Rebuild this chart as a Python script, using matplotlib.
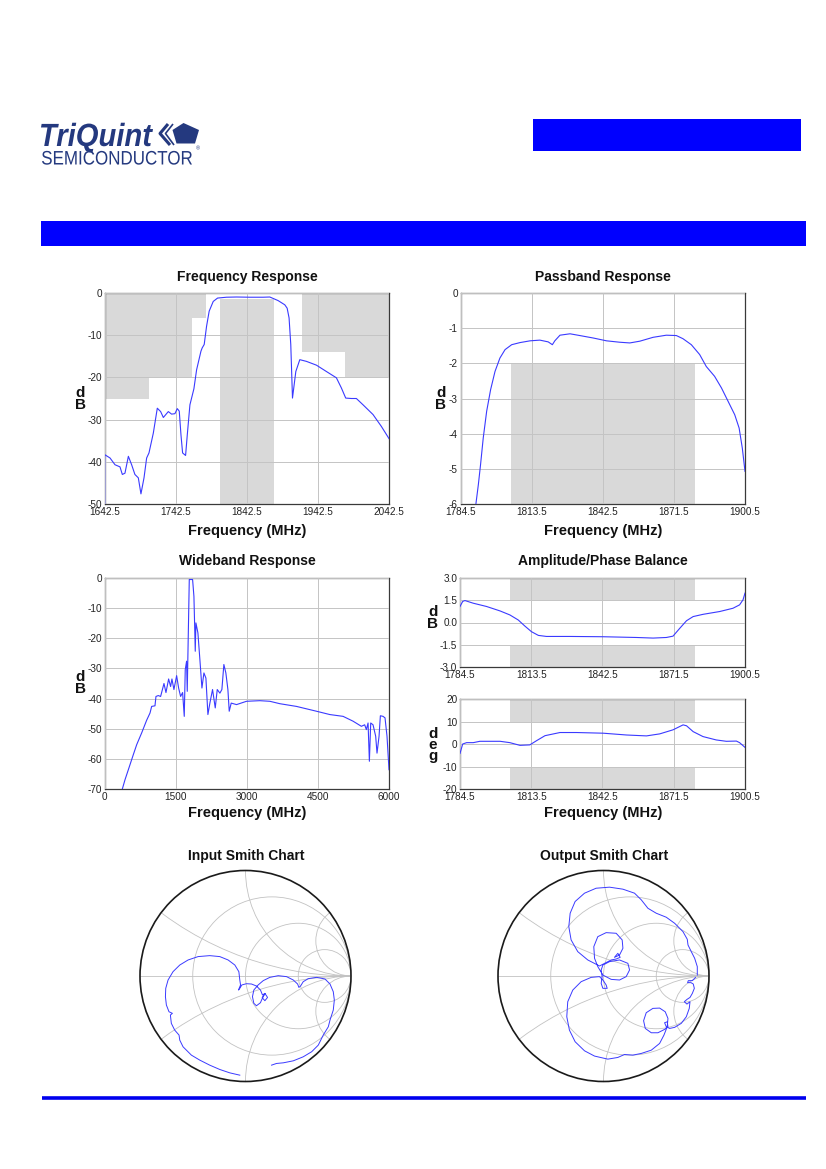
import matplotlib
matplotlib.use('Agg')
import matplotlib.pyplot as plt
from matplotlib.patches import Circle, Rectangle, Polygon, PathPatch
from matplotlib.textpath import TextPath
from matplotlib.font_manager import FontProperties
from matplotlib.transforms import Affine2D
import numpy as np

plt.rcParams['font.family'] = ['Liberation Sans', 'DejaVu Sans']

# ---------------- data ----------------
# Frequency Response (MHz, dB)
fr_freq = [1642.5, 1642.5, 1650, 1657, 1664, 1667.3, 1671, 1675.8, 1680.4, 1685, 1689.8, 1693.5,
           1697.8, 1701.5, 1704.8, 1710.9, 1716.5, 1721.2, 1725, 1732, 1736.6, 1741.3, 1744.6,
           1747.4, 1749.8, 1752.1, 1756.3, 1758.7, 1762.4, 1768, 1771.8, 1777.9, 1779.7, 1782.5,
           1785.8, 1789.5, 1795.2, 1801.3, 1813.9, 1828, 1846.7, 1865.4, 1874.8, 1886.5, 1895.9,
           1899.2, 1901.9, 1904.3, 1906.7, 1908.5, 1911.4, 1917, 1926.3, 1940.4, 1954.4, 1968.5,
           1975.5, 1981.6, 1989.6, 1996.6, 2006, 2020, 2031.7, 2042.5]
fr_db = [-50, -38.3, -39.1, -40.7, -41.2, -43, -42.7, -38.7, -40.7, -43, -43.8, -47.6,
         -43.8, -39.1, -37.9, -33.2, -27.3, -28.1, -29.5, -28.1, -28.7, -28.6, -27.4,
         -28.0, -33.6, -37.9, -38.5, -33.6, -26.5, -22.7, -18.2, -13.8, -13.0, -12.2,
         -7.9, -4.3, -2.0, -1.2, -1.0, -0.95, -1.0, -1.0, -0.95, -1.8, -2.8,
         -3.6, -5.9, -12.2, -24.9, -22.5, -18.6, -15.8, -16.2, -17.1, -18.6, -20.1,
         -22.5, -24.9, -25.0, -25.0, -26.5, -28.8, -31.6, -34.5]
# spec masks: (f_start, f_end, top, bottom)
fr_masks = [(1642.5, 1705, 0, -25), (1705, 1765, 0, -20), (1765, 1785, 0, -6),
            (1805, 1880, -1.5, -50), (1920, 1980, 0, -14), (1980, 2042.5, 0, -20)]

# Passband Response
pb_freq = [1790.7, 1791.7, 1792.6, 1793.7, 1795.1, 1796.7, 1798.5, 1800.5, 1802.6, 1805.3, 1808.7,
           1812.8, 1816.8, 1820.2, 1821.9, 1822.9, 1825, 1829.1, 1833.1, 1838.6, 1844, 1849.4,
           1853.5, 1857.6, 1863, 1868.4, 1872.5, 1875.2, 1878.6, 1882, 1884.7, 1888.1, 1890.9,
           1893.6, 1896.3, 1898.1, 1899.4, 1900.5]
pb_db = [-6, -5.45, -4.88, -4.12, -3.36, -2.75, -2.23, -1.85, -1.61, -1.47, -1.41,
         -1.36, -1.34, -1.39, -1.47, -1.36, -1.20, -1.16, -1.21, -1.28, -1.36, -1.40,
         -1.42, -1.37, -1.26, -1.20, -1.21, -1.30, -1.47, -1.75, -2.09, -2.37, -2.70,
         -3.08, -3.46, -3.84, -4.41, -5.07]
pb_masks = [(1805, 1880, -2, -6)]

# Wideband Response
wb_freq = [372, 429, 499, 604, 675, 780, 885, 956, 991, 1061, 1082, 1131, 1180, 1251, 1293, 1349,
           1391, 1419, 1461, 1518, 1560, 1602, 1644, 1679, 1700, 1728, 1742, 1771, 1785, 1813,
           1855, 1883, 1897, 1911, 1925, 1967, 2009, 2052, 2094, 2136, 2178, 2220, 2276, 2333,
           2375, 2431, 2473, 2515, 2557, 2600, 2628, 2670, 2782, 2993, 3274, 3485, 3696, 4047,
           4469, 4750, 5031, 5241, 5417, 5487, 5522, 5558, 5586, 5614, 5663, 5719, 5747, 5790,
           5818, 5874, 5916, 5958, 6000]
wb_db = [-70, -66.9, -63.6, -58.6, -55.3, -51.4, -47.2, -44.8, -42.6, -42.4, -39.3, -39.0, -39.3,
         -35.0, -38.0, -33.5, -36.0, -33.5, -37.0, -32.4, -36.5, -39.3, -38.0, -45.9, -30.4,
         -27.6, -37.6, -12.7, -0.5, -0.5, -0.5, -6.1, -14.9, -24.3, -14.9, -18.2, -27.1,
         -36.5, -31.5, -33.2, -45.3, -41.5, -37.0, -43.1, -37.0, -38.2, -37.0, -28.7, -31.5,
         -37.0, -44.2, -41.5, -42.0, -40.9, -40.7, -40.9, -41.7, -42.6, -44.2, -45.3, -45.9,
         -47.5, -49.2, -48.7, -50.3, -48.1, -60.8, -48.1, -48.7, -52.5, -58.1, -52.5, -45.7,
         -45.9, -46.4, -52.5, -63.6]

# Amplitude balance (dB)
ab_freq = [1784.5, 1785.6, 1786.5, 1789.9, 1795.3, 1800.8, 1804.8, 1808.2, 1810.9, 1813.6, 1816.4,
           1819.7, 1829.2, 1842.8, 1856.3, 1863.1, 1868.5, 1871.2, 1873.9, 1876.7, 1879.4,
           1883.4, 1890.2, 1895.6, 1898.3, 1899.7, 1900.5]
ab_db = [1.08, 1.42, 1.48, 1.30, 1.08, 0.78, 0.51, 0.17, -0.24, -0.62, -0.87,
         -0.94, -0.94, -0.96, -1.01, -1.05, -1.01, -0.92, -0.40, 0.12, 0.40,
         0.55, 0.74, 0.96, 1.19, 1.53, 1.98]
ab_masks = [(1805, 1880, 3.0, 1.5), (1805, 1880, -1.5, -3.0)]

# Phase balance (deg)
ph_freq = [1784.5, 1785.6, 1787.2, 1789.9, 1792.6, 1800.8, 1804.8, 1808.9, 1812.9, 1815.7, 1819.1,
           1825.2, 1831.9, 1842.8, 1852.3, 1860.4, 1865.8, 1871.2, 1875.3, 1876.7, 1879.4,
           1883.4, 1888.8, 1892.9, 1897.0, 1898.3, 1900.5]
ph_deg = [-4.2, 0.0, 0.6, 0.6, 1.2, 1.2, 0.6, -0.6, -0.4, 1.5, 3.7,
          5.1, 5.1, 4.8, 4.0, 3.6, 4.5, 6.3, 8.5, 8.1, 5.5,
          3.3, 1.8, 1.2, 1.3, 0.6, -1.5]
ph_masks = [(1805, 1880, 20, 10), (1805, 1880, -10, -20)]

# Smith charts: reflection coefficient (real, imag)
in_re = [-0.054, -0.149, -0.244, -0.339, -0.434, -0.513, -0.592, -0.623, -0.630, -0.671, -0.703,
         -0.712, -0.693, -0.725, -0.750, -0.759, -0.756, -0.734, -0.687, -0.623, -0.544, -0.449,
         -0.339, -0.244, -0.165, -0.101, -0.063, -0.054, -0.047, -0.060, -0.066, -0.054, -0.035,
         0.009, 0.057, 0.104, 0.142, 0.161, 0.184, 0.209, 0.184, 0.158, 0.184, 0.152, 0.142,
         0.104, 0.079, 0.066, 0.079, 0.120, 0.168, 0.231, 0.310, 0.389, 0.453, 0.494, 0.506,
         0.522, 0.547, 0.595, 0.674, 0.753, 0.801, 0.832, 0.842, 0.832, 0.801, 0.785, 0.737,
         0.690, 0.627, 0.547, 0.453, 0.358, 0.294, 0.247]
in_im = [-0.940, -0.918, -0.886, -0.845, -0.797, -0.750, -0.671, -0.608, -0.560, -0.513, -0.449,
         -0.370, -0.354, -0.339, -0.275, -0.196, -0.117, -0.038, 0.041, 0.104, 0.152, 0.184,
         0.193, 0.184, 0.152, 0.104, 0.041, -0.038, -0.085, -0.117, -0.133, -0.117, -0.085,
         -0.073, -0.076, -0.095, -0.133, -0.180, -0.165, -0.203, -0.234, -0.206, -0.165, -0.228,
         -0.253, -0.282, -0.259, -0.196, -0.133, -0.085, -0.044, -0.013, 0.003, -0.006, -0.038,
         -0.076, -0.108, -0.095, -0.054, -0.025, -0.013, -0.028, -0.076, -0.149, -0.228, -0.323,
         -0.418, -0.481, -0.560, -0.655, -0.718, -0.766, -0.804, -0.823, -0.829, -0.845]

out_re = [0.873, 0.842, 0.804, 0.797, 0.829, 0.851, 0.861, 0.842, 0.820, 0.791, 0.766, 0.791,
          0.820, 0.813, 0.785, 0.737, 0.674, 0.627, 0.595, 0.579, 0.604, 0.611, 0.579, 0.516,
          0.453, 0.396, 0.380, 0.405, 0.468, 0.532, 0.585, 0.611, 0.604, 0.573, 0.532, 0.453,
          0.358, 0.278, 0.199, 0.136, 0.041, -0.085, -0.180, -0.269, -0.323, -0.348, -0.339,
          -0.291, -0.212, -0.117, -0.038, -0.006, 0.025, 0.035, -0.006, -0.022, -0.013, -0.022,
          -0.006, 0.057, 0.152, 0.231, 0.247, 0.215, 0.152, 0.073, -0.006, -0.054, -0.085,
          -0.092, -0.054, 0.025, 0.120, 0.177, 0.184, 0.152, 0.104, 0.136, 0.158, 0.120, 0.073,
          -0.038, -0.149, -0.244, -0.307, -0.329, -0.316, -0.269, -0.180, -0.070, 0.057, 0.184,
          0.294, 0.358, 0.421, 0.500, 0.595, 0.674, 0.753, 0.794, 0.801, 0.832, 0.864, 0.889,
          0.889]
out_im = [-0.013, -0.044, -0.044, -0.063, -0.063, -0.076, -0.117, -0.165, -0.203, -0.222, -0.244,
          -0.266, -0.244, -0.307, -0.386, -0.449, -0.487, -0.497, -0.481, -0.443, -0.434, -0.481,
          -0.506, -0.538, -0.538, -0.497, -0.424, -0.348, -0.307, -0.304, -0.339, -0.402, -0.481,
          -0.560, -0.639, -0.703, -0.734, -0.750, -0.744, -0.772, -0.788, -0.759, -0.709, -0.623,
          -0.513, -0.386, -0.244, -0.133, -0.054, -0.013, -0.006, -0.038, -0.085, -0.117, -0.117,
          -0.070, -0.006, 0.057, 0.104, 0.136, 0.152, 0.120, 0.057, -0.006, -0.038, -0.032,
          0.009, 0.089, 0.168, 0.278, 0.373, 0.411, 0.405, 0.342, 0.263, 0.199, 0.177, 0.215,
          0.177, 0.161, 0.152, 0.095, 0.152, 0.231, 0.342, 0.468, 0.595, 0.706, 0.785, 0.832,
          0.842, 0.823, 0.785, 0.722, 0.642, 0.595, 0.557, 0.500, 0.421, 0.348, 0.294, 0.231,
          0.168, 0.089, 0.009]

# ---------------- figure ----------------
W, H = 826, 1169
fig = plt.figure(figsize=(W / 100, H / 100), dpi=100)
fig.patch.set_facecolor('white')

TRACE = '#3a3aff'
SHADE = '#d9d9d9'
GRID = '#c4c4c4'
NAVY = '#24397f'


def px_rect(l, t, r, b):
    return [l / W, 1 - b / H, (r - l) / W, (b - t) / H]


# page decoration layer in pixel units
bg = fig.add_axes([0, 0, 1, 1])
bg.set_xlim(0, W)
bg.set_ylim(H, 0)
bg.axis('off')
bg.add_patch(Rectangle((533, 119), 268, 32, fc='#0000ff', ec='none'))
bg.add_patch(Rectangle((41, 221), 765, 25, fc='#0000ff', ec='none'))
bg.plot([42, 806], [1097.5, 1097.5], color='#0000ee', lw=2.6, solid_capstyle='butt')


def squeezed_text(s, x0, x1, y_base, cap_h, prop):
    tp = TextPath((0, 0), s, size=1, prop=prop)
    ext = tp.get_extents()
    sx = (x1 - x0) / ext.width
    sy = cap_h / 0.716
    tr = Affine2D().translate(-ext.x0, 0).scale(sx, -sy).translate(x0, y_base)
    bg.add_patch(PathPatch(tr.transform_path(tp), fc=NAVY, ec='none'))


squeezed_text('TriQuint', 41, 153, 146, 23,
              FontProperties(family='Liberation Sans', weight='bold', style='italic'))
squeezed_text('SEMICONDUCTOR', 42, 192, 164.5, 14,
              FontProperties(family='Liberation Sans'))
bg.add_patch(Polygon([(183.5, 123), (199, 130), (195, 143.5), (176.5, 143.5), (172.5, 130)],
                     closed=True, fc=NAVY, ec='none'))
bg.plot([168, 160, 170], [124, 133.5, 145], color=NAVY, lw=2.2, solid_capstyle='butt')
bg.plot([173, 165.5, 174], [124, 133.5, 145], color=NAVY, lw=1.2, solid_capstyle='butt')
bg.text(198, 149, '®', fontsize=4, color=NAVY, ha='center', va='center')


def rect_chart(rect, xs, ys, masks, xlim, ylim, xticks, yticks, yfmt='{:g}', xfmt='{:g}'):
    ax = fig.add_axes(rect)
    for f0, f1, top, bot in masks:
        ax.fill_between([f0, f1], [top, top], [bot, bot], color=SHADE, lw=0, zorder=1)
    ax.plot(xs, ys, color=TRACE, lw=0.8, zorder=3)
    ax.set_xlim(*xlim)
    ax.set_ylim(*ylim)
    ax.set_xticks(xticks)
    ax.set_yticks(yticks)
    ax.set_xticklabels([xfmt.format(v) for v in xticks])
    ax.set_yticklabels([yfmt.format(v) for v in yticks])
    ax.set_axisbelow(False)
    ax.grid(True, color=GRID, lw=0.7, zorder=2)
    ax.tick_params(length=0, labelsize=7.2, colors='#222222')
    ax.tick_params(axis='y', pad=2)
    ax.tick_params(axis='x', pad=2.5)
    for sp in ax.spines.values():
        sp.set_color('#3a3a3a')
        sp.set_linewidth(0.9)
    return ax


fr_ticks = [1642.5, 1742.5, 1842.5, 1942.5, 2042.5]
pb_ticks = [1784.5, 1813.5, 1842.5, 1871.5, 1900.5]

rect_chart(px_rect(104.7, 293, 389, 504), fr_freq, fr_db, fr_masks,
           (1642.5, 2042.5), (-50, 0), fr_ticks, [0, -10, -20, -30, -40, -50])
rect_chart(px_rect(460.7, 293, 745, 504), pb_freq, pb_db, pb_masks,
           (1784.5, 1900.5), (-6, 0), pb_ticks, [0, -1, -2, -3, -4, -5, -6])
rect_chart(px_rect(104.7, 578, 389, 789), wb_freq, wb_db, [],
           (0, 6000), (-70, 0), [0, 1500, 3000, 4500, 6000],
           [0, -10, -20, -30, -40, -50, -60, -70])
rect_chart(px_rect(460, 578, 745, 667), ab_freq, ab_db, ab_masks,
           (1784.5, 1900.5), (-3, 3), pb_ticks, [3.0, 1.5, 0.0, -1.5, -3.0], yfmt='{:.1f}')
rect_chart(px_rect(460, 699, 745, 789), ph_freq, ph_deg, ph_masks,
           (1784.5, 1900.5), (-20, 20), pb_ticks, [20, 10, 0, -10, -20])

# titles and labels
title_kw = dict(ha='center', va='center', fontsize=10, fontweight='bold', color='#111111')
for x, y, s in [(247, 277, 'Frequency Response'), (603, 277, 'Passband Response'),
                (247, 561, 'Wideband Response'), (603, 561, 'Amplitude/Phase Balance'),
                (246, 856, 'Input Smith Chart'), (604, 856, 'Output Smith Chart')]:
    fig.text(x / W, 1 - y / H, s, **title_kw)

xl_kw = dict(ha='center', va='center', fontsize=10.5, fontweight='bold', color='#111111')
for x, y in [(247, 531), (603, 531), (247, 813), (603, 813)]:
    fig.text(x / W, 1 - y / H, 'Frequency (MHz)', **xl_kw)

yl_kw = dict(ha='center', va='center', fontsize=11, fontweight='bold', color='#111111',
             linespacing=0.75)
for x, y, s in [(80, 399, 'd\nB'), (441, 399, 'd\nB'), (80, 683, 'd\nB'),
                (433, 618, 'd\nB'), (433, 745, 'd\ne\ng')]:
    fig.text(x / W, 1 - y / H, s, **yl_kw)


# Smith charts
def smith(rect, re, im):
    ax = fig.add_axes(rect)
    ax.set_xlim(-1, 1)
    ax.set_ylim(-1, 1)
    ax.axis('off')
    clip = Circle((0, 0), 1, transform=ax.transData)
    for r in [1 / 3, 1, 3]:
        c = Circle((r / (1 + r), 0), 1 / (1 + r), fill=False, ec='#c2c2c2', lw=0.6)
        ax.add_patch(c)
    for xv in [1 / 3, 1, 3, -1 / 3, -1, -3]:
        c = Circle((1, 1 / xv), 1 / abs(xv), fill=False, ec='#c2c2c2', lw=0.6)
        ax.add_patch(c)
        c.set_clip_path(clip)
    ax.plot([-1, 1], [0, 0], color='#c2c2c2', lw=0.6)
    ax.plot(re, im, color=TRACE, lw=0.7, zorder=3)
    ax.add_patch(Circle((0, 0), 1, fill=False, ec='#1a1a1a', lw=1.2, clip_on=False, zorder=4))
    return ax


smith(px_rect(140, 870.5, 351, 1081.5), in_re, in_im)
smith(px_rect(498, 870.5, 709, 1081.5), out_re, out_im)

fig.savefig('out.png', dpi=100, facecolor='white')
